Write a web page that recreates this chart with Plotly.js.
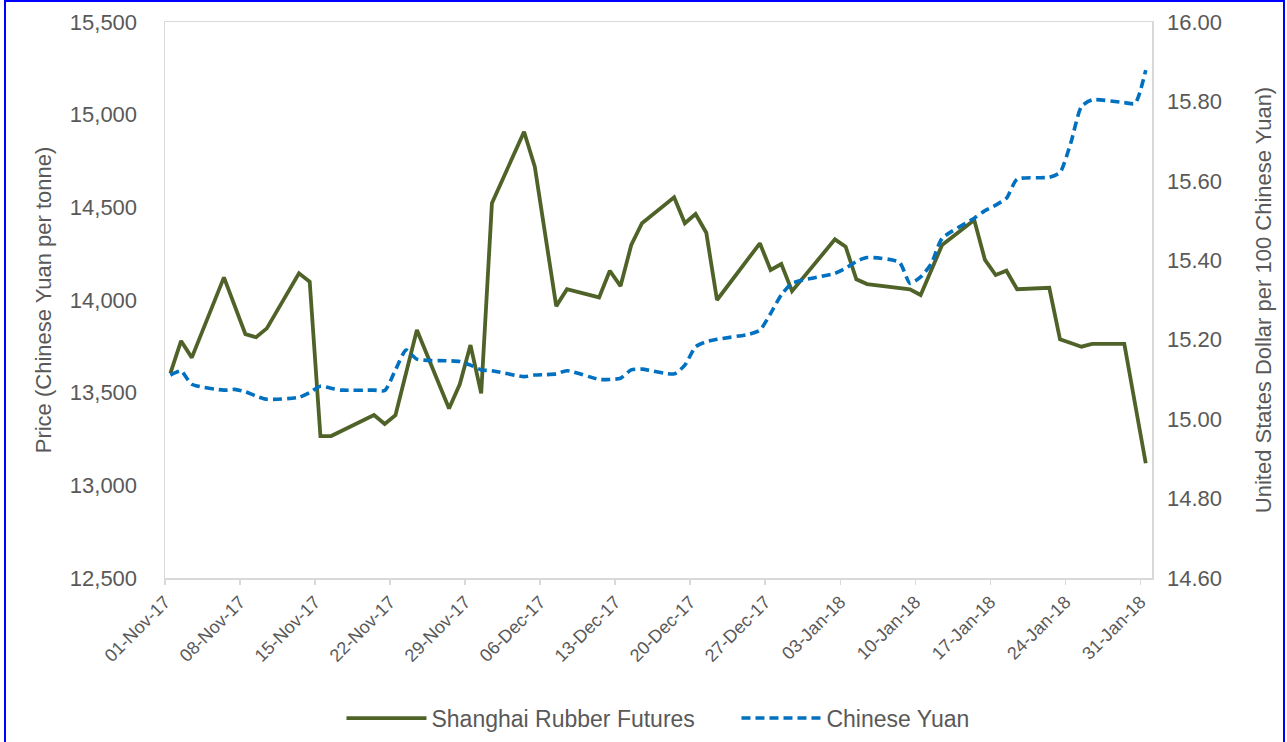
<!DOCTYPE html>
<html>
<head>
<meta charset="utf-8">
<script src="https://cdn.plot.ly/plotly-3.0.1.min.js"></script>
<style>
  html, body { margin: 0; padding: 0; background: #ffffff; }
  #wrap { position: relative; width: 1287px; height: 742px; overflow: hidden; }
  #chart { width: 1287px; height: 742px; }
  #frame { position: absolute; left: 4px; top: 0px; width: 1277px; height: 780px;
           border: 2px solid #0000FF; pointer-events: none; }
</style>
</head>
<body>
<div id="wrap">
  <div id="chart"></div>
  <div id="frame"></div>
</div>
<script>
// Shanghai Rubber Futures (Chinese Yuan per tonne)
const rubberDates = [
  '2017-11-01','2017-11-02','2017-11-03','2017-11-06','2017-11-08','2017-11-09','2017-11-10',
  '2017-11-13','2017-11-14','2017-11-15','2017-11-16','2017-11-20','2017-11-21','2017-11-22',
  '2017-11-24','2017-11-27','2017-11-28','2017-11-29','2017-11-30','2017-12-01','2017-12-04',
  '2017-12-05','2017-12-07','2017-12-08','2017-12-11','2017-12-12','2017-12-13','2017-12-14',
  '2017-12-15','2017-12-18','2017-12-19','2017-12-20','2017-12-21','2017-12-22','2017-12-26',
  '2017-12-27','2017-12-28','2017-12-29','2018-01-02','2018-01-03','2018-01-04','2018-01-05',
  '2018-01-09','2018-01-10','2018-01-12','2018-01-15','2018-01-16','2018-01-17','2018-01-18',
  '2018-01-19','2018-01-22','2018-01-23','2018-01-24','2018-01-25','2018-01-26','2018-01-29',
  '2018-01-30','2018-01-31'
];
const rubberPrice = [
  13604,13779,13689,14122,13816,13799,13847,
  14144,14099,13266,13266,13379,13331,13379,
  13838,13415,13545,13757,13496,14522,14908,
  14719,13967,14058,14014,14158,14075,14297,
  14414,14554,14414,14464,14363,14000,14306,
  14162,14194,14048,14327,14288,14112,14086,
  14058,14027,14297,14432,14216,14135,14158,
  14058,14066,13788,13768,13748,13763,13763,
  13440,13119
];

// Chinese Yuan (US Dollar per 100 Chinese Yuan)
const yuanDates = [
  '2017-11-01','2017-11-02','2017-11-03','2017-11-06','2017-11-07','2017-11-08','2017-11-09',
  '2017-11-10','2017-11-13','2017-11-14','2017-11-15','2017-11-16','2017-11-17','2017-11-20',
  '2017-11-21','2017-11-22','2017-11-23','2017-11-24','2017-11-27','2017-11-28','2017-11-29',
  '2017-11-30','2017-12-01','2017-12-04','2017-12-05','2017-12-06','2017-12-07','2017-12-08',
  '2017-12-11','2017-12-12','2017-12-13','2017-12-14','2017-12-15','2017-12-18','2017-12-19',
  '2017-12-20','2017-12-21','2017-12-22','2017-12-25','2017-12-26','2017-12-27','2017-12-28',
  '2017-12-29','2018-01-02','2018-01-03','2018-01-04','2018-01-05','2018-01-08','2018-01-09',
  '2018-01-10','2018-01-11','2018-01-12','2018-01-15','2018-01-16','2018-01-17','2018-01-18',
  '2018-01-19','2018-01-22','2018-01-23','2018-01-24','2018-01-25','2018-01-26','2018-01-29',
  '2018-01-30','2018-01-31'
];
const yuanRate = [
  15.111,15.121,15.088,15.073,15.075,15.069,15.058,
  15.050,15.055,15.067,15.083,15.078,15.073,15.073,
  15.072,15.124,15.174,15.151,15.147,15.145,15.136,
  15.124,15.122,15.107,15.111,15.112,15.114,15.122,
  15.100,15.100,15.103,15.124,15.126,15.114,15.136,
  15.182,15.195,15.201,15.214,15.224,15.266,15.313,
  15.342,15.367,15.380,15.397,15.407,15.395,15.342,
  15.358,15.392,15.455,15.506,15.525,15.539,15.556,
  15.604,15.609,15.621,15.695,15.787,15.804,15.797,
  15.795,15.879
];

// Weekly tick positions
const tickDates = ['2017-11-01','2017-11-08','2017-11-15','2017-11-22','2017-11-29','2017-12-06',
  '2017-12-13','2017-12-20','2017-12-27','2018-01-03','2018-01-10','2018-01-17','2018-01-24','2018-01-31'];
const tickLabels = ['01-Nov-17','08-Nov-17','15-Nov-17','22-Nov-17','29-Nov-17','06-Dec-17',
  '13-Dec-17','20-Dec-17','27-Dec-17','03-Jan-18','10-Jan-18','17-Jan-18','24-Jan-18','31-Jan-18'];

const seriesNames = ['Shanghai Rubber Futures', 'Chinese Yuan'];
const axisTitles = ['Price (Chinese Yuan per tonne)', 'United States Dollar per 100 Chinese Yuan)'];

const mid = d => d + ' 12:00';
const txt = '#595959';
const fnt = 'Liberation Sans, Arial, sans-serif';

const traces = [
  {
    x: rubberDates.map(mid), y: rubberPrice, name: seriesNames[0],
    type: 'scatter', mode: 'lines',
    line: { color: '#4F6228', width: 3.8 },
    yaxis: 'y'
  },
  {
    x: yuanDates.map(mid), y: yuanRate, name: seriesNames[1],
    type: 'scatter', mode: 'lines',
    line: { color: '#0070C0', width: 3.6, dash: '9px,5px', shape: 'spline', smoothing: 0.6 },
    yaxis: 'y2'
  }
];

const layout = {
  width: 1287, height: 742,
  margin: { l: 165, r: 135, t: 22, b: 164, autoexpand: false },
  paper_bgcolor: '#ffffff', plot_bgcolor: '#ffffff',
  font: { family: fnt, size: 22, color: txt },
  showlegend: true,
  legend: {
    orientation: 'h', x: 0.579, xanchor: 'center', y: -0.252, yanchor: 'middle',
    font: { family: fnt, size: 23, color: txt }, itemwidth: 80, traceorder: 'normal',
    entrywidth: 300
  },
  xaxis: {
    type: 'date',
    range: ['2017-11-01', '2018-02-01 02:00'],
    tickvals: tickDates, ticktext: tickLabels,
    tickangle: -45,
    showgrid: false, zeroline: false,
    showline: true, linecolor: '#D9D9D9', linewidth: 1.5, mirror: true,
    ticks: 'outside', ticklen: 5, tickcolor: '#D9D9D9', tickwidth: 1.5,
    tickfont: { family: fnt, size: 18, color: txt }
  },
  yaxis: {
    range: [12500, 15500], dtick: 500, tick0: 12500, tickformat: ',d',
    showgrid: false, zeroline: false,
    showline: true, linecolor: '#D9D9D9', linewidth: 1.5, mirror: true,
    ticks: '', ticklabelstandoff: 22,
    tickfont: { family: fnt, size: 22, color: txt },
    title: { text: axisTitles[0], font: { family: fnt, size: 22, color: txt }, standoff: 12 }
  },
  yaxis2: {
    overlaying: 'y', side: 'right',
    range: [14.6, 16.0], dtick: 0.2, tick0: 14.6, tickformat: '.2f',
    showgrid: false, zeroline: false, showline: false,
    ticks: '', ticklabelstandoff: 14,
    tickfont: { family: fnt, size: 22, color: txt },
    title: { text: axisTitles[1], font: { family: fnt, size: 22, color: txt }, standoff: 34 }
  }
};

Plotly.newPlot('chart', traces, layout, { displayModeBar: false, staticPlot: true });
</script>
</body>
</html>
